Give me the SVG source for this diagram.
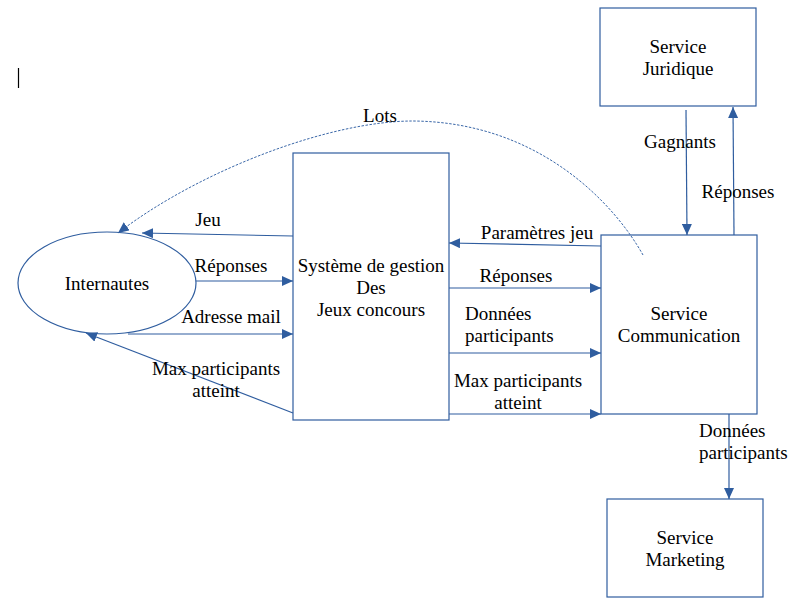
<svg xmlns="http://www.w3.org/2000/svg" width="796" height="606" viewBox="0 0 796 606">
<style>
.n{fill:#fff;stroke:#2f5d9f;stroke-width:1.2}
.c{fill:none;stroke:#2f5d9f;stroke-width:1.2}
.d{fill:none;stroke:#3a67a8;stroke-width:1;stroke-dasharray:2.5 1.5}
text{font-family:"Liberation Serif","Times New Roman",serif;font-size:19px;fill:#000}
.m{text-anchor:middle}
</style>
<defs>
<marker id="a" markerUnits="userSpaceOnUse" markerWidth="12" markerHeight="10" refX="11" refY="5" orient="auto">
<path d="M0,0 L11,5 L0,10 Z" fill="#2f5d9f"/>
</marker>
</defs>
<rect width="796" height="606" fill="#fff"/>
<line x1="18.5" y1="68" x2="18.5" y2="88" stroke="#000" stroke-width="1.2"/>
<g id="internautes">
<ellipse class="n" cx="107" cy="283" rx="89" ry="51"/>
<text class="m" x="107" y="290">Internautes</text>
</g>
<g id="systeme">
<rect class="n" x="293" y="153" width="156" height="267"/>
<text class="m" x="371" y="272">Système de gestion</text>
<text class="m" x="371" y="294">Des</text>
<text class="m" x="371" y="316">Jeux concours</text>
</g>
<g id="communication">
<rect class="n" x="601" y="235" width="156" height="179"/>
<text class="m" x="679" y="320">Service</text>
<text class="m" x="679" y="342">Communication</text>
</g>
<g id="juridique">
<rect class="n" x="600" y="8" width="156" height="98"/>
<text class="m" x="678" y="53">Service</text>
<text class="m" x="678" y="75">Juridique</text>
</g>
<g id="marketing">
<rect class="n" x="607" y="499" width="156" height="98"/>
<text class="m" x="685" y="544">Service</text>
<text class="m" x="685" y="566">Marketing</text>
</g>
<g id="connectors">
<path class="d" d="M643,255 C615,205 540,122 413,121 C330,121 200,170 118,233" marker-end="url(#a)"/>
<line class="c" x1="293" y1="236" x2="142" y2="233" marker-end="url(#a)"/>
<line class="c" x1="196" y1="281" x2="293" y2="281" marker-end="url(#a)"/>
<line class="c" x1="128" y1="334" x2="293" y2="334" marker-end="url(#a)"/>
<line class="c" x1="293" y1="413" x2="86" y2="333" marker-end="url(#a)"/>
<line class="c" x1="601" y1="246" x2="449" y2="243" marker-end="url(#a)"/>
<line class="c" x1="449" y1="288" x2="601" y2="288" marker-end="url(#a)"/>
<line class="c" x1="449" y1="353" x2="601" y2="353" marker-end="url(#a)"/>
<line class="c" x1="449" y1="414" x2="601" y2="414" marker-end="url(#a)"/>
<line class="c" x1="686" y1="110" x2="687" y2="235" marker-end="url(#a)"/>
<line class="c" x1="734" y1="235" x2="733" y2="107" marker-end="url(#a)"/>
<line class="c" x1="729" y1="414" x2="729" y2="499" marker-end="url(#a)"/>
<text class="m" x="380" y="122">Lots</text>
<text class="m" x="208" y="226">Jeu</text>
<text class="m" x="231" y="272">Réponses</text>
<text class="m" x="231" y="323">Adresse mail</text>
<text class="m" x="216" y="375">Max participants</text>
<text class="m" x="216" y="397">atteint</text>
<text class="m" x="537" y="239">Paramètres jeu</text>
<text class="m" x="516" y="282">Réponses</text>
<text x="465" y="320">Données</text>
<text x="465" y="342">participants</text>
<text class="m" x="518" y="387">Max participants</text>
<text class="m" x="518" y="409">atteint</text>
<text class="m" x="680" y="148">Gagnants</text>
<text class="m" x="738" y="198">Réponses</text>
<text x="699" y="437">Données</text>
<text x="699" y="459">participants</text>
</g>
</svg>
